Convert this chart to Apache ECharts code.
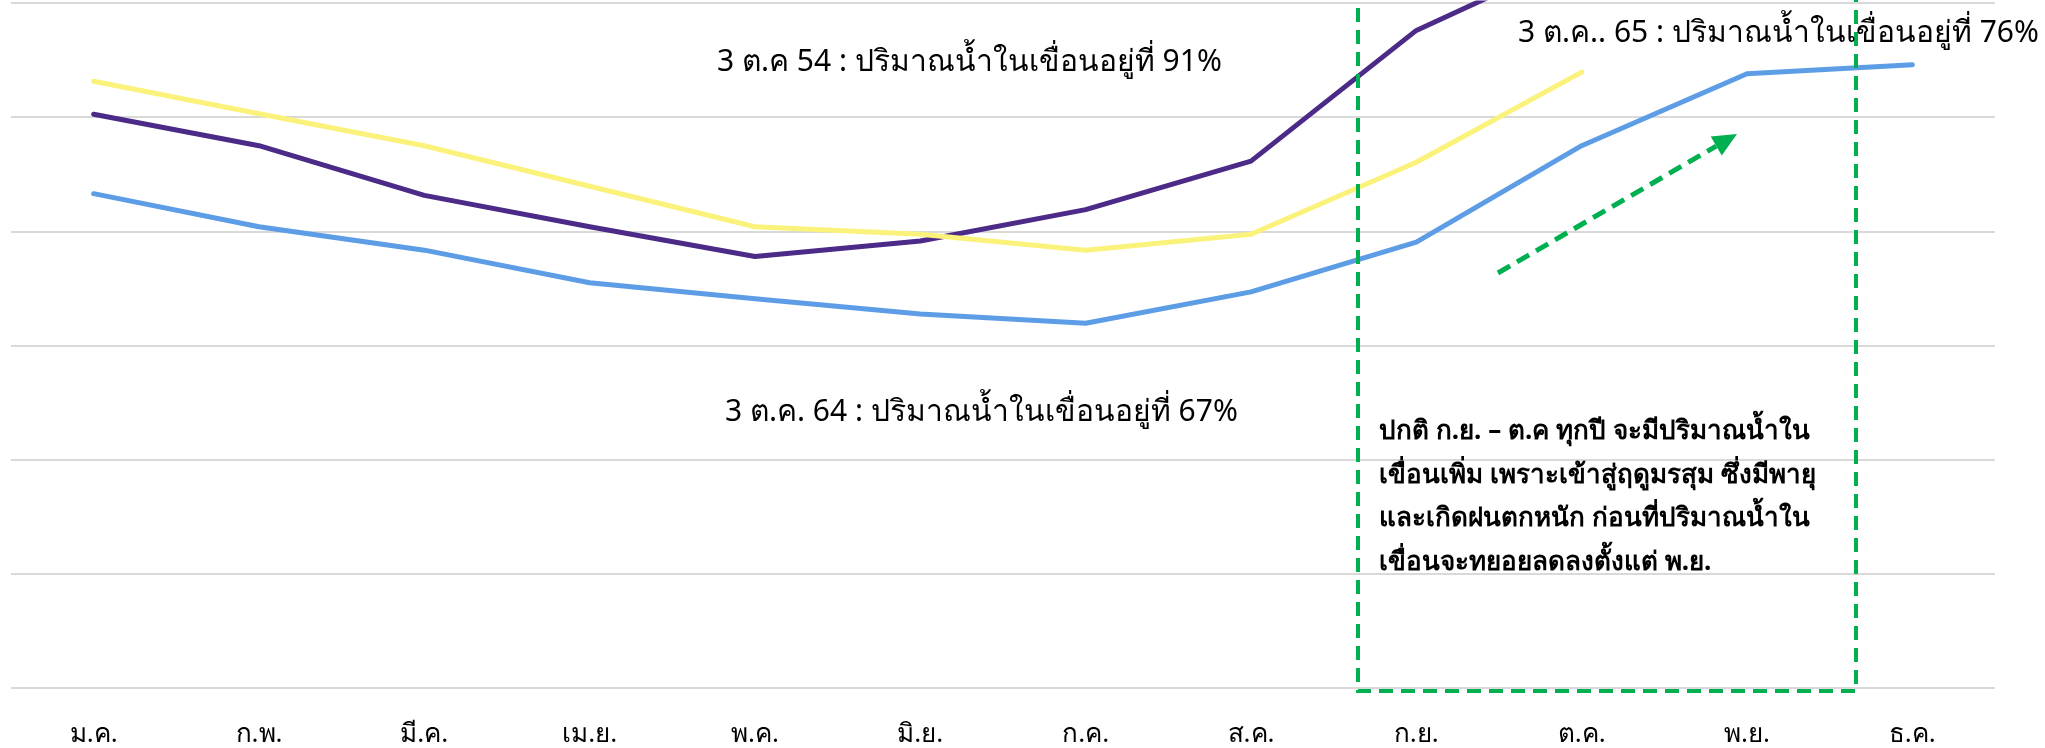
<!DOCTYPE html>
<html>
<head>
<meta charset="utf-8">
<script src="https://cdn.jsdelivr.net/npm/echarts@6/dist/echarts.min.js"></script>
<style>
html,body{margin:0;padding:0;background:#fff;}
#c{width:2045px;height:748px;}
</style>
</head>
<body>
<div id="c"></div>
<script>
const months = ['ม.ค.','ก.พ.','มี.ค.','เม.ย.','พ.ค.','มิ.ย.','ก.ค.','ส.ค.','ก.ย.','ต.ค.','พ.ย.','ธ.ค.'];
const year2565 = [86.6, 80.8, 76.7, 71.0, 68.2, 65.5, 63.9, 69.4, 78.1, 95.0, 107.6, 109.2];
const year2554 = [100.5, 95.0, 86.3, 80.8, 75.6, 78.3, 83.8, 92.3, 115.2, 128.5, null, null];
const year2564 = [106.3, 100.6, 95.0, 87.9, 80.8, 79.5, 76.7, 79.5, 92.1, 107.9, null, null];

const note54 = '3 ต.ค 54 : ปริมาณน้ำในเขื่อนอยู่ที่ 91%';
const note65 = '3 ต.ค.. 65 : ปริมาณน้ำในเขื่อนอยู่ที่ 76%';
const note64 = '3 ต.ค. 64 : ปริมาณน้ำในเขื่อนอยู่ที่ 67%';
const noteBox = ['ปกติ ก.ย. – ต.ค ทุกปี จะมีปริมาณน้ำใน',
  'เขื่อนเพิ่ม เพราะเข้าสู่ฤดูมรสุม ซึ่งมีพายุ',
  'และเกิดฝนตกหนัก ก่อนที่ปริมาณน้ำใน',
  'เขื่อนจะทยอยลดลงตั้งแต่ พ.ย.'];

const FONT = '"Noto Sans", "DejaVu Sans", sans-serif';
const green = '#00B050';
const chart = echarts.init(document.getElementById('c'), null, {renderer:'canvas'});

function lineSeries(name, data, color){
  return {name, type:'line', data, symbol:'none', smooth:false,
    lineStyle:{color, width:5, cap:'round', join:'round'}, clip:true, z:3};
}

// arrow geometry
const a0 = [1498, 273], tip = [1737, 134];
const dx = tip[0]-a0[0], dy = tip[1]-a0[1], L = Math.hypot(dx, dy);
const ux = dx/L, uy = dy/L, px = -uy, py = ux;
const hl = 24, hw = 11;
const base = [tip[0]-ux*hl, tip[1]-uy*hl];

chart.setOption({
  animation:false,
  backgroundColor:'#ffffff',
  grid:{left:11, right:50, top:3, bottom:58, containLabel:false},
  xAxis:{type:'category', data:months, boundaryGap:true,
    axisLine:{show:false}, axisTick:{show:false},
    axisLabel:{color:'#000', fontSize:26, fontFamily:FONT, margin:34}},
  yAxis:{type:'value', min:0, max:120, interval:20,
    axisLabel:{show:false}, axisLine:{show:false}, axisTick:{show:false},
    splitLine:{lineStyle:{color:'#D9D9D9', width:2}}},
  series:[
    lineSeries('2565', year2565, '#5C9DE6'),
    lineSeries('2554', year2554, '#4B2A88'),
    lineSeries('2564', year2564, '#FBF27C')
  ],
  graphic:[
    {type:'rect', z:10, shape:{x:1358, y:-20, width:498, height:711},
      style:{fill:'none', stroke:green, lineWidth:4, lineDash:[14,8]}},
    {type:'line', z:10, shape:{x1:a0[0], y1:a0[1], x2:base[0], y2:base[1]},
      style:{stroke:green, lineWidth:5, lineDash:[14,8]}},
    {type:'polygon', z:10, shape:{points:[tip,[base[0]+px*hw, base[1]+py*hw],[base[0]-px*hw, base[1]-py*hw]]},
      style:{fill:green}},
    {type:'text', z:11, x:717, y:62, style:{text:note54, fill:'#000', font:'30px '+FONT, textVerticalAlign:'middle'}},
    {type:'text', z:11, x:1518, y:33, style:{text:note65, fill:'#000', font:'30px '+FONT, textVerticalAlign:'middle'}},
    {type:'text', z:11, x:725, y:412, style:{text:note64, fill:'#000', font:'30px '+FONT, textVerticalAlign:'middle'}},
    {type:'text', z:11, x:1379, y:432, style:{text:noteBox.join('\n'), fill:'#000', font:'bold 26px '+FONT, lineHeight:43.5, textVerticalAlign:'top'}, top:410}
  ]
});
</script>
</body>
</html>
